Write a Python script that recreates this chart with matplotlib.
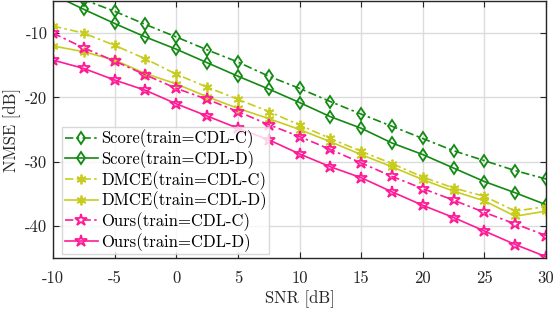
import matplotlib
matplotlib.use("Agg")
import matplotlib.pyplot as plt
import numpy as np

snr = [-10, -7.5, -5, -2.5, 0, 2.5, 5, 7.5, 10, 12.5, 15, 17.5, 20, 22.5, 25, 27.5, 30]
score_c = [-3.0, -4.8, -6.6, -8.65, -10.6, -12.6, -14.5, -16.7, -18.6, -20.65, -22.6, -24.5, -26.4, -28.3, -29.85, -31.4, -32.7]
score_d = [-4.0, -6.3, -8.5, -10.6, -12.5, -14.6, -16.7, -18.7, -20.8, -23.0, -24.8, -27.1, -28.9, -31.0, -33.1, -34.85, -36.7]
dmce_c = [-8.9, -10.0, -11.9, -14.0, -16.4, -18.4, -20.3, -22.2, -24.3, -26.4, -28.4, -30.3, -32.4, -34.1, -35.4, -37.7, -37.0]
dmce_d = [-12.0, -12.9, -14.2, -16.3, -17.9, -19.9, -21.7, -23.3, -25.0, -26.9, -28.9, -30.8, -32.8, -34.6, -36.1, -38.5, -37.7]
ours_c = [-10.0, -12.3, -14.35, -16.5, -18.6, -20.3, -22.2, -24.25, -26.1, -28.1, -30.2, -32.3, -34.2, -36.0, -37.9, -39.7, -41.5]
ours_d = [-14.2, -15.5, -17.3, -18.9, -21.0, -22.9, -24.8, -26.6, -28.8, -30.8, -32.5, -34.7, -36.8, -38.7, -40.8, -42.9, -44.8]

labels = ["Score(train=CDL-C)", "Score(train=CDL-D)", "DMCE(train=CDL-C)",
          "DMCE(train=CDL-D)", "Ours(train=CDL-C)", "Ours(train=CDL-D)"]
xticks = [-10, -5, 0, 5, 10, 15, 20, 25, 30]
yticks = [-40, -30, -20, -10]

plt.rcParams['font.family'] = 'serif'
plt.rcParams['font.serif'] = ['cmr10']
plt.rcParams['axes.unicode_minus'] = False
plt.rcParams['mathtext.fontset'] = 'cm'

fig = plt.figure(figsize=(5.55, 3.09), dpi=100)
ax = fig.add_axes([53/555, 1 - 258/309, (546 - 53)/555, (258 - 1)/309])

green = '#128a12'
yellow = '#c8cc1e'
pink = '#ff1a96'

series = [
    (score_c, green, (0, (5, 2, 1.5, 2)), 'd', 'none', 6),
    (score_d, green, '-', 'd', 'none', 6),
    (dmce_c, yellow, (0, (5, 2, 1.5, 2)), (6, 2, 0), yellow, 7),
    (dmce_d, yellow, '-', (6, 2, 0), yellow, 7),
    (ours_c, pink, (0, (5, 2, 1.5, 2)), '*', 'none', 9),
    (ours_d, pink, '-', '*', 'none', 9),
]
for (vals, col, ls, mk, mfc, ms), lab in zip(series, labels):
    ax.plot(snr, vals, color=col, linestyle=ls, marker=mk, markerfacecolor=mfc,
            markeredgecolor=col, markersize=ms, markeredgewidth=1.3, linewidth=1.2,
            label=lab, clip_on=True)

ax.set_xlim(-10, 30)
ax.set_ylim(-45, -5)
ax.set_xticks(xticks)
ax.set_xticklabels([str(t) for t in xticks])
ax.set_yticks(yticks)
ax.set_yticklabels([str(t) for t in yticks])
ax.tick_params(direction='in', top=True, right=True, labelsize=12, length=4, width=0.8, colors='#262626', labelcolor='#262626')
ax.tick_params(axis='x', pad=9)
ax.tick_params(axis='y', pad=4)
ax.grid(True, color='#dcdcdc', linewidth=1.0)
ax.set_axisbelow(True)
for sp in ax.spines.values():
    sp.set_color('#262626')
    sp.set_linewidth(1.0)
ax.set_xlabel('SNR [dB]', fontsize=12, color='#262626', labelpad=3)
ax.set_ylabel('NMSE [dB]', fontsize=12, color='#262626', labelpad=3)

leg = ax.legend(loc='upper left', bbox_to_anchor=((62 - 53)/493, (258 - 127)/257),
                fontsize=12, frameon=True, fancybox=False, edgecolor='#d0d0d0',
                borderpad=0.15, labelspacing=0.12, handlelength=2.0, handletextpad=0.2,
                borderaxespad=0)
leg.get_frame().set_linewidth(1.0)

fig.savefig('out.png', dpi=100)
